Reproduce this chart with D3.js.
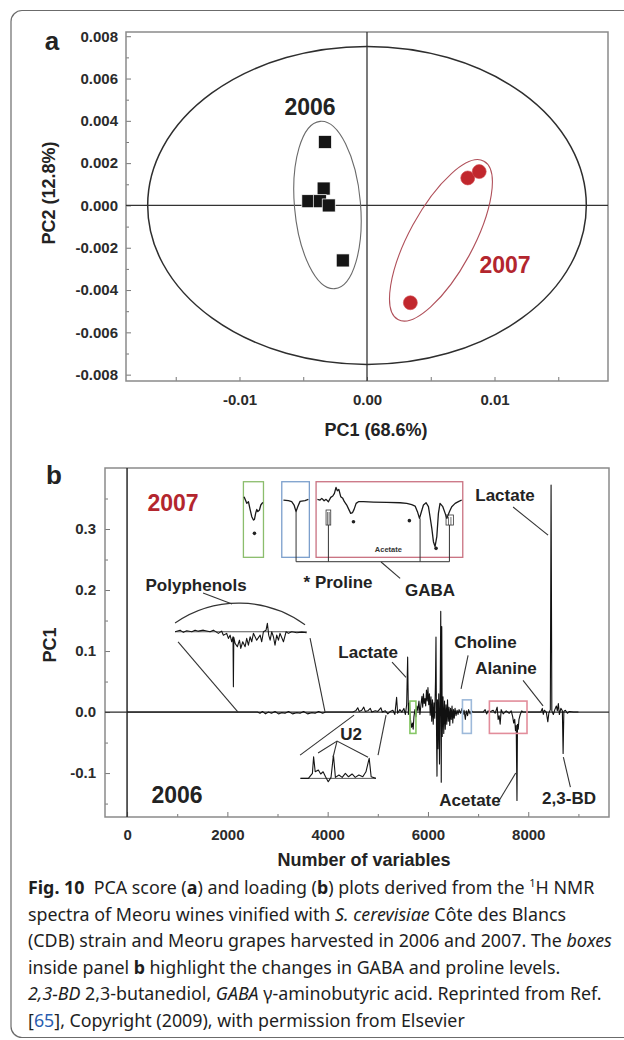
<!DOCTYPE html>
<html><head><meta charset="utf-8">
<script src="https://cdn.jsdelivr.net/npm/d3@7"></script>
<style>
body{margin:0;background:#fff}
svg{display:block}
text{white-space:pre}
</style></head><body>
<svg id="fig" width="624" height="1040"></svg>
<script>
// ---------- Panel a: PCA scores ----------
const scores2006 = [[-0.0033,0.0030],[-0.0034,0.0008],[-0.0046,0.0002],[-0.0037,0.0002],[-0.0030,0.0000],[-0.0019,-0.0026]];
const scores2007 = [[0.0079,0.0013],[0.0088,0.0016],[0.0034,-0.0046]];
const pc1Ticks = [-0.01,0,0.01];
const pc1Minor = [-0.015,-0.01,-0.005,0,0.005,0.01,0.015];
const pc2Ticks = [-0.008,-0.006,-0.004,-0.002,0,0.002,0.004,0.006,0.008];
const pc2Minor = [-0.007,-0.005,-0.003,-0.001,0.001,0.003,0.005,0.007];
// ellipses: centre, semi-axes in PC1 / PC2 units, tilt in degrees
const hotelling = {cx:0, cy:0, rx:0.0172, ry:0.00752, tilt:0};
const group2006 = {cx:-0.0031, cy:0.00002, rx:0.00259, ry:0.00397, tilt:-5};
const group2007 = {cx:0.0058, cy:-0.00165, rx:0.00251, ry:0.00426, tilt:28.5};

// ---------- Panel b: PC1 loadings ----------
const loadings = [
[0,0],[2600,0],
[2650,-0.002],[2700,0.001],[2760,-0.003],[2820,0],[2880,-0.002],[2950,0.001],[3020,-0.003],[3080,-0.001],
[3150,-0.002],[3220,0.001],[3300,-0.003],[3380,-0.001],[3450,-0.002],[3520,0.001],[3600,-0.003],[3680,-0.001],
[3750,-0.002],[3820,0.001],[3900,-0.002],[3960,0],[4500,0],
[4560,0.002],[4600,0.007],[4630,0.001],[4680,0.003],[4720,0.008],[4750,0.001],[4800,0.002],[4850,0.006],[4880,0],
[4950,0.002],[5000,0.001],[5060,0.007],[5090,0],[5150,0.002],[5200,-0.003],[5250,0.001],[5300,0.003],[5340,-0.004],
[5375,0.024],[5395,-0.002],[5440,0.004],[5480,0],[5520,0.006],[5550,-0.004],[5575,0.012],[5595,0.09],[5610,-0.004],
[5630,0.015],[5650,-0.012],[5670,-0.025],[5690,-0.018],[5705,-0.028],[5720,-0.008],[5740,0.004],[5760,-0.008],
[5780,0.01],[5800,0.002],[5820,0.018],[5840,-0.004],[5860,0.012],[5880,0.026],[5895,0.008],[5910,0.03],[5925,0.014],
[5940,0.022],[5955,0.01],[5970,0.036],[5985,0.018],[6000,0.04],[6015,0.012],[6030,0.03],[6045,-0.005],[6060,0.025],
[6075,-0.015],[6090,0.02],[6105,-0.02],[6120,0.015],[6135,-0.01],[6150,0.05],[6160,0.123],[6170,-0.025],[6180,-0.105],
[6190,0.02],[6200,-0.06],[6215,0.03],[6230,-0.085],[6245,0.05],[6255,0.165],[6265,-0.115],[6275,0.14],[6285,-0.04],
[6300,0.025],[6315,-0.035],[6330,0.018],[6345,-0.028],[6360,0.012],[6375,-0.02],[6390,0.02],[6405,-0.015],[6420,0.008],
[6435,-0.022],[6450,0.006],[6465,-0.012],[6480,0.01],[6495,-0.018],[6510,0.004],[6525,-0.01],[6540,0.006],[6560,-0.006],
[6580,0.003],[6600,-0.004],[6620,0.004],[6650,-0.002],[6680,0.006],[6700,-0.004],[6720,0.003],[6745,-0.012],[6765,0.002],
[6790,-0.006],[6810,0.004],[6840,-0.003],[6870,0.002],[6900,0],[7100,0],[7140,0.004],[7170,-0.003],[7200,0.002],[7230,0],
[7300,0.003],[7340,-0.002],[7380,0.008],[7400,-0.012],[7420,-0.006],[7440,-0.02],[7460,0.004],[7500,-0.003],[7560,0.002],
[7620,-0.002],[7660,0.002],[7690,-0.008],[7710,-0.018],[7730,-0.012],[7745,-0.03],[7760,-0.022],[7775,-0.145],[7785,-0.02],
[7800,-0.028],[7815,-0.012],[7840,-0.004],[7870,0.002],[7900,0],[8250,0],[8280,0.006],[8300,-0.004],[8320,0.003],[8360,0],
[8390,-0.016],[8410,-0.002],[8440,0.004],[8455,0.372],[8470,0.002],[8500,-0.004],[8530,0.004],[8560,0.01],[8580,0.002],
[8600,0.014],[8620,-0.004],[8650,0.006],[8680,0.002],[8695,-0.068],[8710,0.001],[8740,0.003],[8780,-0.002],[8820,0.001],
[8900,0],[9000,0]
];
const varTicks = [0,2000,4000,6000,8000];
const varMinor = [1000,3000,5000,7000,9000];
const loadTicks = [-0.1,0,0.1,0.2,0.3];
const loadMinor = [-0.15,-0.05,0.05,0.15,0.25,0.35];

// expanded views: u = 0..100 across the frame, w = 0..100 down the frame
const zoomGreen = [[3.3,19.8],[16.7,28.6],[25,26.4],[33.3,36.6],[41.7,46.3],[50,50.7],[55,49.8],[61.7,41],[66.7,36.6],[71.7,39.6],[80,37.4],[86.7,30.8],[96.7,27.3]];
const zoomBlue = [[6,24.2],[24,25],[36,26.4],[44.6,30.8],[51.8,39.6],[57.8,33],[66.3,26],[84.3,25],[96.4,23.3]];
const zoomRed = [[0.9,23.3],[2.7,24.2],[3.9,22],[5.5,25.1],[6.8,23.3],[8.4,26.4],[10,20.7],[11.4,18.9],[12.5,15.4],[13.6,7.5],
[14.5,11.9],[15.5,10.1],[16.8,19.8],[18.2,22],[19.3,26.4],[20.9,30.8],[22.3,36.6],[23.6,41.9],[24.8,41],[25.9,36.6],[27.3,28.6],
[28.9,26.4],[32.3,26.4],[39.1,26.9],[48.2,27.3],[57.3,27.8],[61.8,28.6],[65.2,30.4],[67.5,32.2],[69.1,39.6],[70.5,48.5],[71.6,41],
[73.2,30.8],[75,27.8],[76.6,33],[77.7,46.3],[78.9,61.7],[80,79.3],[81.1,85.9],[82.3,72.7],[83.4,41.9],[84.5,28.6],[86.4,33],
[88,41.9],[89.1,48.5],[90.9,39.6],[92.5,33],[94.8,28.6],[97,26.4],[99.3,24.2]];
const prolineMarks = {green:[[55,68.3]], red:[[25.5,52.9],[63.6,51.5],[81.8,88.1]]};
// polyphenol and U2 expanded traces: u = 0..100 across, value in expanded loading units
const zoomPolyphenols = [[0,0],[3.8,0.08],[6.3,-0.03],[8.9,0.05],[12.7,0],[15.2,0.08],[17.7,0.03],[21.5,0.08],[26.6,0],[29.1,0.08],
[32.9,-0.08],[35.4,0.03],[36.7,-0.17],[39.2,-0.08],[40.5,-0.33],[41.8,-0.17],[43,-0.5],[44,-0.25],[44.3,-2.75],[44.6,-0.28],
[45.6,-0.58],[47.3,-0.75],[48.9,-0.42],[49.9,-0.83],[51.4,-0.5],[53.2,-0.75],[54.4,-0.33],[55.7,-0.67],[57,-0.25],[58.2,-0.5],
[59.5,-0.08],[62,-0.42],[64.6,-0.17],[65.8,-0.5],[67.1,0],[69.1,0.08],[70.1,0.42],[71.1,-0.17],[72.2,-0.42],[73.4,0],[74.7,-0.25],
[75.9,-0.67],[77.2,-0.17],[78.5,-0.42],[79.7,-0.08],[82.3,-0.5],[84.3,0],[86.1,-0.08],[88.6,0],[92.4,-0.05],[96.2,-0.02],[100,-0.05]];
const zoomU2 = [[0,0],[10.5,0],[15.8,0.25],[17.4,1.08],[19.5,0.33],[23.7,0.42],[26.8,0.22],[30,0.33],[33.2,0.08],[36.8,-0.17],
[40.5,0.05],[43.7,1.17],[46.3,0.05],[51,0.17],[55.3,0.05],[59.5,0.25],[63.7,0.08],[68.4,0.22],[72.6,0.05],[77.4,0.17],
[82.6,0.08],[86.8,0.33],[91.1,1.0],[93.7,0.08],[100,0]];

const svg = d3.select('#fig');
const ink = '#232323';
const frameGrey = '#8a8a8a';
const sans = '"Liberation Sans", Arial, Helvetica, sans-serif';

// rounded card around the figure
svg.append('rect').attr('x',11).attr('y',10.5).attr('width',650).attr('height',1027)
  .attr('rx',11).attr('fill','none').attr('stroke','#6b6b6b').attr('stroke-width',1.2);

function label(g, txt, x, y, size, opts={}) {
  const t = g.append('text').attr('x',x).attr('y',y).attr('dy','0.36em')
    .attr('text-anchor', opts.anchor || 'middle')
    .attr('font-family', sans).attr('font-weight','bold')
    .attr('font-size', size).attr('fill', opts.fill || ink).text(txt);
  if (opts.rotate) t.attr('transform',`rotate(-90,${x},${y})`);
  return t;
}

// ================= Panel a =================
const xA = d3.scaleLinear().domain([-0.0189,0.0189]).range([126,608]);
const yA = d3.scaleLinear().domain([-0.0083,0.0082]).range([381,32]);
const gA = svg.append('g');

gA.append('g').attr('transform',`translate(${xA.range()[0]},0)`)
  .call(d3.axisLeft(yA).tickValues(pc2Minor).tickSize(-3).tickFormat(''))
  .call(g=>g.select('.domain').remove());
gA.append('g').attr('transform',`translate(${xA.range()[0]},0)`)
  .call(d3.axisLeft(yA).tickValues(pc2Ticks).tickSize(-5).tickPadding(8).tickFormat(d=>d.toFixed(3)))
  .call(g=>g.select('.domain').remove());
gA.append('g').attr('transform',`translate(0,${yA.range()[0]})`)
  .call(d3.axisBottom(xA).tickValues(pc1Minor).tickSize(-4).tickFormat(''))
  .call(g=>g.select('.domain').remove());
gA.append('g').attr('transform',`translate(0,${yA.range()[0]})`)
  .call(d3.axisBottom(xA).tickValues(pc1Ticks).tickSize(0).tickPadding(13).tickFormat(d=>d.toFixed(2)))
  .call(g=>g.select('.domain').remove());
gA.selectAll('.tick line').attr('stroke','#777');
gA.selectAll('.tick text').attr('font-family',sans).attr('font-weight','bold').attr('font-size',15).attr('fill','#2b2b2b');

gA.append('rect').attr('x',xA.range()[0]).attr('y',yA.range()[1])
  .attr('width',xA.range()[1]-xA.range()[0]).attr('height',yA.range()[0]-yA.range()[1])
  .attr('fill','none').attr('stroke',frameGrey).attr('stroke-width',1.5);
gA.append('line').attr('x1',xA(0)).attr('x2',xA(0)).attr('y1',yA.range()[1]).attr('y2',yA.range()[0])
  .attr('stroke','#333').attr('stroke-width',1.3);
gA.append('line').attr('x1',xA.range()[0]).attr('x2',xA.range()[1]).attr('y1',yA(0)).attr('y2',yA(0))
  .attr('stroke','#333').attr('stroke-width',1.3);

function ellipse(e, stroke, width) {
  const cx = xA(e.cx), cy = yA(e.cy);
  gA.append('ellipse').attr('cx',cx).attr('cy',cy)
    .attr('rx',Math.abs(xA(e.cx+e.rx)-cx)).attr('ry',Math.abs(yA(e.cy+e.ry)-cy))
    .attr('transform',`rotate(${e.tilt},${cx},${cy})`)
    .attr('fill','none').attr('stroke',stroke).attr('stroke-width',width);
}
ellipse(hotelling,'#2e2e2e',1.5);
ellipse(group2006,'#6a6a6a',1.1);
ellipse(group2007,'#b0505a',1.1);

gA.selectAll('rect.s2006').data(scores2006).join('rect').attr('class','s2006')
  .attr('x',d=>xA(d[0])-6.5).attr('y',d=>yA(d[1])-6.5).attr('width',13).attr('height',13)
  .attr('fill','#151515').attr('stroke','#fff').attr('stroke-width',0.7);
gA.selectAll('circle.s2007').data(scores2007).join('circle').attr('class','s2007')
  .attr('cx',d=>xA(d[0])).attr('cy',d=>yA(d[1])).attr('r',7)
  .attr('fill','#c1272d').attr('stroke','#d04a4f').attr('stroke-width',0.6);

label(gA,'2006',xA(-0.00447),yA(0.00465),23);
label(gA,'2007',xA(0.01082),yA(-0.00282),23,{fill:'#b3262e'});
label(gA,'PC1 (68.6%)',376,430,18);
label(gA,'PC2 (12.8%)',49,193,18,{rotate:true});
label(gA,'a',52,41,26);

// ================= Panel b =================
const xB = d3.scaleLinear().domain([-440,9610]).range([105,609]);
const yB = d3.scaleLinear().domain([-0.172,0.4]).range([817,468]);
const gB = svg.append('g');

gB.append('g').attr('transform',`translate(${xB.range()[0]},0)`)
  .call(d3.axisLeft(yB).tickValues(loadMinor).tickSize(-3).tickFormat(''))
  .call(g=>g.select('.domain').remove());
gB.append('g').attr('transform',`translate(${xB.range()[0]},0)`)
  .call(d3.axisLeft(yB).tickValues(loadTicks).tickSize(-5).tickPadding(9).tickFormat(d=>d.toFixed(1)))
  .call(g=>g.select('.domain').remove());
gB.append('g').attr('transform',`translate(0,${yB.range()[0]})`)
  .call(d3.axisBottom(xB).tickValues(varMinor).tickSize(-3).tickFormat(''))
  .call(g=>g.select('.domain').remove());
gB.append('g').attr('transform',`translate(0,${yB.range()[0]})`)
  .call(d3.axisBottom(xB).tickValues(varTicks).tickSize(-5).tickPadding(12).tickFormat(d=>String(d)))
  .call(g=>g.select('.domain').remove());
gB.selectAll('.tick line').attr('stroke','#777');
gB.selectAll('.tick text').attr('font-family',sans).attr('font-weight','bold').attr('font-size',15).attr('fill','#2b2b2b');

gB.append('rect').attr('x',xB.range()[0]).attr('y',yB.range()[1])
  .attr('width',xB.range()[1]-xB.range()[0]).attr('height',yB.range()[0]-yB.range()[1])
  .attr('fill','none').attr('stroke',frameGrey).attr('stroke-width',1.5);
gB.append('line').attr('x1',xB(0)).attr('x2',xB(0)).attr('y1',yB.range()[1]).attr('y2',yB.range()[0])
  .attr('stroke','#2a2a2a').attr('stroke-width',1.5);
gB.append('line').attr('x1',xB.range()[0]).attr('x2',xB.range()[1]).attr('y1',yB(0)).attr('y2',yB(0))
  .attr('stroke','#2a2a2a').attr('stroke-width',1.3);

const line = d3.line().x(d=>xB(d[0])).y(d=>yB(d[1]));
gB.append('path').datum(loadings).attr('d',line)
  .attr('fill','none').attr('stroke','#111').attr('stroke-width',1.1).attr('stroke-linejoin','round');

// highlight boxes on the loading trace
const traceBoxes = [
  {x0:5640,x1:5760,y0:-0.035,y1:0.018,c:'#86c766'},
  {x0:6688,x1:6865,y0:-0.035,y1:0.02,c:'#9db9da'},
  {x0:7225,x1:7975,y0:-0.035,y1:0.018,c:'#e28d9b'}
];
gB.selectAll('rect.tb').data(traceBoxes).join('rect').attr('class','tb')
  .attr('x',d=>xB(d.x0)).attr('y',d=>yB(d.y1)).attr('width',d=>xB(d.x1)-xB(d.x0)).attr('height',d=>yB(d.y0)-yB(d.y1))
  .attr('fill','none').attr('stroke',d=>d.c).attr('stroke-width',1.6);

// expanded 2007 regions
const frames = {
  green:{x0:2320,x1:2720,y0:0.2536,y1:0.3775,c:'#8bbd6c',trace:zoomGreen},
  blue:{x0:3085,x1:3635,y0:0.2536,y1:0.3775,c:'#7c9fcc',trace:zoomBlue},
  red:{x0:3769,x1:6694,y0:0.2536,y1:0.3775,c:'#c97181',trace:zoomRed}
};
function frameScales(f){
  return {u:d3.scaleLinear([0,100],[xB(f.x0),xB(f.x1)]), w:d3.scaleLinear([0,100],[yB(f.y1),yB(f.y0)])};
}
Object.entries(frames).forEach(([k,f])=>{
  const s = frameScales(f);
  gB.append('rect').attr('x',s.u(0)).attr('y',s.w(0)).attr('width',s.u(100)-s.u(0)).attr('height',s.w(100)-s.w(0))
    .attr('fill','none').attr('stroke',f.c).attr('stroke-width',1.3);
  gB.append('path').datum(f.trace).attr('d',d3.line().x(d=>s.u(d[0])).y(d=>s.w(d[1])))
    .attr('fill','none').attr('stroke','#1a1a1a').attr('stroke-width',1.3).attr('stroke-linejoin','round');
  (prolineMarks[k]||[]).forEach(p=>{
    gB.append('circle').attr('cx',s.u(p[0])).attr('cy',s.w(p[1])).attr('r',1.8).attr('fill','#222');
  });
  f.s = s;
});
// multiplet markers in the red frame
const rs = frames.red.s;
[[6.8,10,37.4,57.3],[88.6,93.6,44,57.3]].forEach(([u0,u1,w0,w1])=>{
  gB.append('rect').attr('x',rs.u(u0)).attr('y',rs.w(w0)).attr('width',rs.u(u1)-rs.u(u0)).attr('height',rs.w(w1)-rs.w(w0))
    .attr('fill','none').attr('stroke','#333').attr('stroke-width',0.8);
  [1/3,2/3].forEach(fr=>{
    const ux = rs.u(u0+(u1-u0)*fr);
    gB.append('line').attr('x1',ux).attr('x2',ux).attr('y1',rs.w(w0)+2).attr('y2',rs.w(w1))
      .attr('stroke','#333').attr('stroke-width',0.7);
  });
});
gB.append('text').attr('x',rs.u(49.3)).attr('y',rs.w(89)).attr('dy','0.35em').attr('text-anchor','middle')
  .attr('font-family',sans).attr('font-weight','bold').attr('font-size',7.5).attr('fill','#333').text('Acetate');

// GABA bracket
const bracketY = yB(0.2464);
const bs = frames.blue.s;
const gabaDrops = [[bs.u(51.8),bs.w(39.6)],[rs.u(8.4),rs.w(57.3)],[rs.u(70.9),rs.w(48.5)],[rs.u(90.9),rs.w(57.3)]];
gabaDrops.forEach(([x,y])=>{
  gB.append('line').attr('x1',x).attr('x2',x).attr('y1',y).attr('y2',bracketY).attr('stroke','#333').attr('stroke-width',1);
});
gB.append('line').attr('x1',gabaDrops[0][0]).attr('x2',gabaDrops[3][0]).attr('y1',bracketY).attr('y2',bracketY)
  .attr('stroke','#333').attr('stroke-width',1);

// expanded polyphenol and U2 traces
const insets = [
  {x0:957,x1:3583,base:0.1316,unit:0.0328,trace:zoomPolyphenols},
  {x0:3458,x1:4962,base:-0.1087,unit:0.0328,trace:zoomU2}
];
insets.forEach(f=>{
  const u = d3.scaleLinear([0,100],[xB(f.x0),xB(f.x1)]);
  const v = d => yB(f.base + d*f.unit);
  gB.append('line').attr('x1',u(0)).attr('x2',u(100)).attr('y1',v(0)).attr('y2',v(0)).attr('stroke','#444').attr('stroke-width',0.9);
  gB.append('path').datum(f.trace).attr('d',d3.line().x(d=>u(d[0])).y(d=>v(d[1])))
    .attr('fill','none').attr('stroke','#151515').attr('stroke-width',1.1).attr('stroke-linejoin','round');
});

// pointer lines (variable, loading)
const pointers = [
  [[7697,0.336],[8395,0.29]],
  [[5065,0.246],[5445,0.219]],
  [[1515,0.195],[2094,0.177]],
  [[1017,0.115],[2213,0]],
  [[3649,0.121],[3948,0]],
  [[5284,0.082],[5563,0.057]],
  [[6800,0.093],[6660,0.038]],
  [[7896,0.052],[8295,0.01]],
  [[3450,-0.0705],[4526,-0.005]],
  [[5164,-0.005],[5005,-0.0705]],
  [[3809,-0.067],[4187,-0.0475],[4806,-0.074]],
  [[4187,-0.0475],[4108,-0.074]],
  [[7390,-0.149],[7750,-0.1]],
  [[8840,-0.123],[8700,-0.074]]
];
pointers.forEach(p=>{
  gB.append('path').attr('d',d3.line().x(d=>xB(d[0])).y(d=>yB(d[1]))(p))
    .attr('fill','none').attr('stroke','#333').attr('stroke-width',1.1);
});
// arc over the polyphenol expansion
{
  const x0 = xB(957), y0 = yB(0.146), x1 = xB(3549), y1 = yB(0.143);
  gB.append('path').attr('d',`M${x0},${y0} A112,112 0 0 1 ${x1},${y1}`)
    .attr('fill','none').attr('stroke','#333').attr('stroke-width',1.1);
}

const notes = [
  {t:'2007',x:917,y:0.343,s:23,c:'#b3262e'},
  {t:'Lactate',x:7537,y:0.356,s:17},
  {t:'* Proline',x:4207,y:0.213,s:17},
  {t:'GABA',x:6042,y:0.2,s:17},
  {t:'Polyphenols',x:1376,y:0.208,s:17},
  {t:'Lactate',x:4806,y:0.098,s:17},
  {t:'Choline',x:7148,y:0.115,s:17},
  {t:'Alanine',x:7557,y:0.072,s:17},
  {t:'U2',x:4467,y:-0.036,s:17},
  {t:'2006',x:997,y:-0.136,s:23},
  {t:'Acetate',x:6839,y:-0.144,s:17},
  {t:'2,3-BD',x:8813,y:-0.141,s:17}
];
notes.forEach(n=>label(gB,n.t,xB(n.x),yB(n.y),n.s,{fill:n.c}));
label(gB,'Number of variables',364,860,18);
label(gB,'PC1',50,645,18,{rotate:true});
label(gB,'b',54,475,26);

// ================= Caption =================
const captionLines = [
  [['Fig. 10','b'],['  PCA score (',''],['a','b'],[') and loading (',''],['b','b'],[') plots derived from the ',''],['1','sup'],['H NMR','']],
  [['spectra of Meoru wines vinified with ',''],['S. cerevisiae','i'],[' Côte des Blancs','']],
  [['(CDB) strain and Meoru grapes harvested in 2006 and 2007. The ',''],['boxes','i']],
  [['inside panel ',''],['b','b'],[' highlight the changes in GABA and proline levels.','']],
  [['2,3-BD','i'],[' 2,3-butanediol, ',''],['GABA','i'],[' γ-aminobutyric acid. Reprinted from Ref.','']],
  [['[',''],['65','link'],['], Copyright (2009), with permission from Elsevier','']]
];
const capFont = '"Noto Sans", "Open Sans", sans-serif';
// size the caption so the second line spans the text column
const probe = svg.append('text').attr('font-family',capFont).attr('font-size',20)
  .text(captionLines[1].map(s=>s[0]).join(''));
const capSize = 20*545/probe.node().getComputedTextLength();
probe.remove();
const gC = svg.append('g').attr('font-family',capFont).attr('font-size',capSize).attr('fill','#1e1e1e');
captionLines.forEach((segs,i)=>{
  const t = gC.append('text').attr('x',28).attr('y',894+i*26.6);
  segs.forEach(([s,st])=>{
    const ts = t.append('tspan').text(s);
    if (st==='b') ts.attr('font-weight','bold');
    if (st==='i') ts.attr('font-style','italic');
    if (st==='link') ts.attr('fill','#2a5db0');
    if (st==='sup') ts.attr('font-size',capSize*0.62).attr('dy',-capSize*0.4);
  });
  // restore baseline after a superscript
  t.selectAll('tspan').each(function(d,j,nodes){
    if (j>0 && d3.select(nodes[j-1]).attr('dy')) d3.select(this).attr('dy',capSize*0.4);
  });
});
</script>
</body></html>
